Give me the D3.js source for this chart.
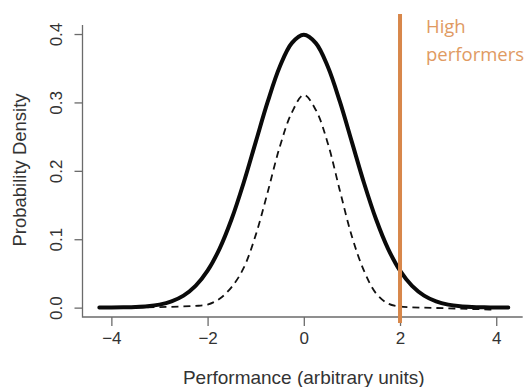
<!DOCTYPE html>
<html>
<head>
<meta charset="utf-8">
<script src="https://cdn.jsdelivr.net/npm/d3@7"></script>
<style>
  body { margin: 0; background: #fff; }
  svg { display: block; }
</style>
</head>
<body>
<div class="chart"></div>
<script>
// performance values (x) shared by both curves
let perf = [-4.25, -4, -3.75, -3.5, -3.25, -3, -2.75, -2.5, -2.25, -2, -1.75, -1.5, -1.25, -1, -0.75, -0.5, -0.25,
  0, 0.25, 0.5, 0.75, 1, 1.25, 1.5, 1.75, 2, 2.25, 2.5, 2.75, 3, 3.25, 3.5, 3.75, 4, 4.25];

// solid curve: density of the whole population
let allDensity = [0.0001, 0.0001, 0.0004, 0.0009, 0.002, 0.0044, 0.0091, 0.0175, 0.0317, 0.054, 0.0863, 0.1295, 0.1826, 0.242, 0.3011, 0.3521, 0.3867,
  0.3989, 0.3867, 0.3521, 0.3011, 0.242, 0.1826, 0.1295, 0.0863, 0.054, 0.0317, 0.0175, 0.0091, 0.0044, 0.002, 0.0009, 0.0004, 0.0001, 0.0001];

// dashed curve (starts at -3.25, ends at 4)
let subPerf = perf.slice(4, 34);
let subDensity = [0.0005, 0.0008, 0.0012, 0.0018, 0.0025, 0.0045, 0.013, 0.030, 0.058, 0.106, 0.169, 0.235, 0.285,
  0.311, 0.289, 0.240, 0.171, 0.104, 0.054, 0.021, 0.006, 0.0015, 0.0004, 0.0, -0.0005, -0.001, -0.0015, -0.002, -0.0025, -0.003];

let xTicks = [-4, -2, 0, 2, 4];
let yTicks = [0, 0.1, 0.2, 0.3, 0.4];
let cutoff = 2;
let cutoffLabel = ['High', 'performers'];

let w = 527;
let h = 387;

let x = d3.scaleLinear().domain([-4.6, 4.55]).range([82.5, 522.7]);
let y = d3.scaleLinear().domain([-0.0137, 0.4132]).range([317, 25]);

let svg = d3.select('.chart').append('svg')
  .attr('width', w)
  .attr('height', h)
  .style('font-family', '"Liberation Sans", Arial, sans-serif');

let g = svg.append('g');

// left + bottom frame
g.append('path')
  .attr('d', 'M' + x.range()[0] + ',' + y.range()[1] + 'V' + y.range()[0] + 'H' + x.range()[1])
  .attr('fill', 'none')
  .attr('stroke', '#6b6b6b')
  .attr('stroke-width', 1.3);

// x axis
let xAxis = d3.axisBottom(x)
  .tickValues(xTicks)
  .tickSize(9)
  .tickPadding(6)
  .tickFormat(d => d3.format('')(d).replace('-', '\u2212'));

let gx = g.append('g')
  .attr('transform', 'translate(0,' + y.range()[0] + ')')
  .call(xAxis);
gx.select('.domain').remove();
gx.selectAll('line').attr('stroke', '#6b6b6b').attr('stroke-width', 1.3);
gx.selectAll('text')
  .attr('fill', '#333')
  .style('font-size', '17px')
  .style('font-family', '"Liberation Sans", Arial, sans-serif');

// y axis
let yAxis = d3.axisLeft(y)
  .tickValues(yTicks)
  .tickSize(8)
  .tickFormat(d3.format('.1f'));

let gy = g.append('g')
  .attr('transform', 'translate(' + x.range()[0] + ',0)')
  .call(yAxis);
gy.select('.domain').remove();
gy.selectAll('line').attr('stroke', '#6b6b6b').attr('stroke-width', 1.3);
gy.selectAll('text')
  .attr('x', 0)
  .attr('dy', 0)
  .attr('transform', 'translate(-21,0) rotate(-90)')
  .attr('text-anchor', 'middle')
  .attr('fill', '#333')
  .style('font-size', '17px')
  .style('font-family', '"Liberation Sans", Arial, sans-serif');

// axis titles
g.append('text')
  .attr('x', x(0))
  .attr('y', 384)
  .attr('text-anchor', 'middle')
  .attr('fill', '#333')
  .style('font-size', '19px')
  .text('Performance (arbitrary units)');

g.append('text')
  .attr('transform', 'translate(26,170) rotate(-90)')
  .attr('text-anchor', 'middle')
  .attr('fill', '#333')
  .style('font-size', '18.5px')
  .text('Probability Density');

let line = d3.line()
  .x(d => x(d[0]))
  .y(d => y(d[1]))
  .curve(d3.curveCatmullRom);

// dashed curve
g.append('path')
  .attr('d', line(d3.zip(subPerf, subDensity)))
  .attr('fill', 'none')
  .attr('stroke', '#111')
  .attr('stroke-width', 1.8)
  .attr('stroke-dasharray', '7,5');

// solid curve
g.append('path')
  .attr('d', line(d3.zip(perf, allDensity)))
  .attr('fill', 'none')
  .attr('stroke', '#0a0a0a')
  .attr('stroke-width', 4)
  .attr('stroke-linecap', 'round');

// cutoff line
g.append('line')
  .attr('x1', x(cutoff))
  .attr('x2', x(cutoff))
  .attr('y1', 14)
  .attr('y2', 323)
  .attr('stroke', '#d8874a')
  .attr('stroke-width', 4);

g.selectAll('.cut-label')
  .data(cutoffLabel)
  .enter().append('text')
  .attr('class', 'cut-label')
  .attr('x', x(cutoff) + 26)
  .attr('y', (d, i) => 33 + i * 28)
  .attr('fill', '#e09a62')
  .style('font-family', '"Open Sans", sans-serif')
  .style('font-size', '18.5px')
  .text(d => d);
</script>
</body>
</html>
